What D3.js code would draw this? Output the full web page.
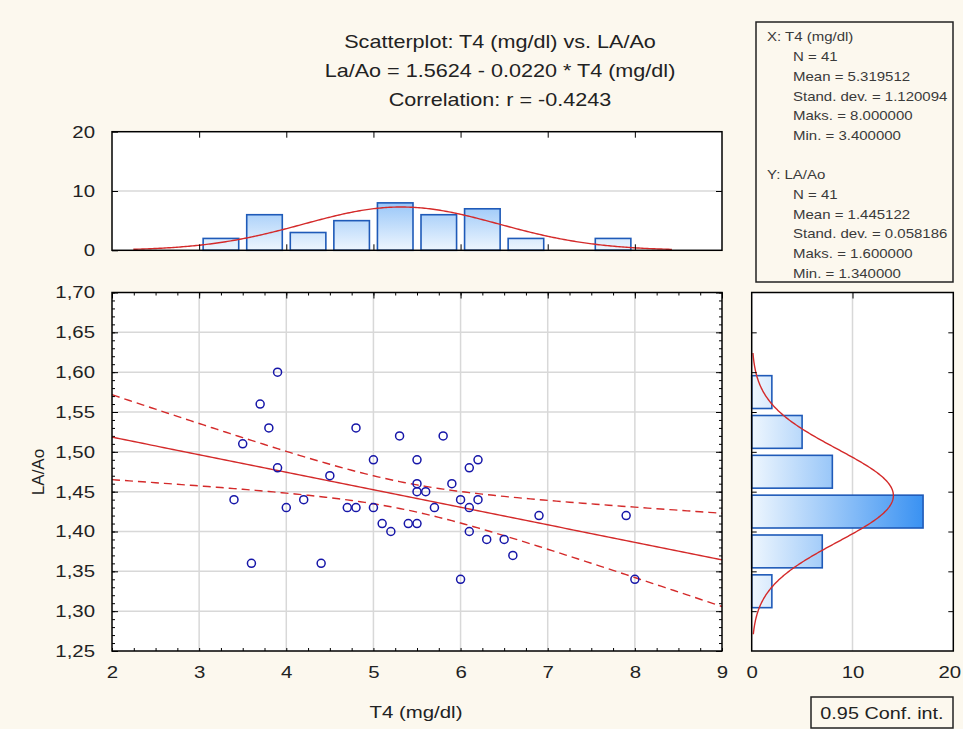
<!DOCTYPE html>
<html>
<head>
<meta charset="utf-8">
<script src="https://cdn.jsdelivr.net/npm/d3@7"></script>
<style>
  body { margin: 0; background: #fcf8ee; }
  svg { display: block; font-family: "Liberation Sans", Arial, sans-serif; }
  .axis path { display: none; }
  .axis line { stroke: #000; }
  .axis text { fill: #222; font-size: 17px; }
</style>
</head>
<body>
<script>
// data
const t4 = [3.4, 3.5, 3.6, 3.7, 3.8, 3.9, 3.9, 4.0, 4.2, 4.4, 4.5, 4.7, 4.8, 4.8, 5.0, 5.0, 5.1, 5.2, 5.3, 5.4,
    5.5, 5.5, 5.5, 5.5, 5.6, 5.7, 5.8, 5.9, 6.0, 6.0, 6.1, 6.1, 6.1, 6.2, 6.2, 6.3, 6.5, 6.6, 6.9, 7.9, 8.0];
const laao = [1.44, 1.51, 1.36, 1.56, 1.53, 1.60, 1.48, 1.43, 1.44, 1.36, 1.47, 1.43, 1.53, 1.43, 1.49, 1.43, 1.41, 1.40, 1.52, 1.41,
    1.49, 1.46, 1.45, 1.41, 1.45, 1.43, 1.52, 1.46, 1.44, 1.34, 1.48, 1.43, 1.40, 1.49, 1.44, 1.39, 1.39, 1.37, 1.42, 1.42, 1.34];

const xBinEdges = [3.0, 3.5, 4.0, 4.5, 5.0, 5.5, 6.0, 6.5, 7.0, 7.5, 8.0];
const xBinCounts = [2, 6, 3, 5, 8, 6, 7, 2, 0, 2];
const yBinEdges = [1.30, 1.35, 1.40, 1.45, 1.50, 1.55, 1.60];
const yBinCounts = [2, 7, 17, 8, 5, 2];

const intercept = 1.5624;
const slope = -0.0220;
const tCrit = 2.0227; // t(0.975, 39)

const titleLines = ["Scatterplot: T4 (mg/dl) vs. LA/Ao", "La/Ao = 1.5624 - 0.0220 * T4 (mg/dl)", "Correlation: r = -0.4243"];
const statsX = ["N = 41", "Mean = 5.319512", "Stand. dev. = 1.120094", "Maks. = 8.000000", "Min. = 3.400000"];
const statsY = ["N = 41", "Mean = 1.445122", "Stand. dev. = 0.058186", "Maks. = 1.600000", "Min. = 1.340000"];
const xMean = 5.319512, xSd = 1.120094, yMean = 1.445122, ySd = 0.058186;

const W = 963, H = 729;
const stretch = 1.2; // the original text is drawn wider than Arial
const svg = d3.select("body").append("svg").attr("width", W).attr("height", H);

const x = d3.scaleLinear().domain([2, 9]).range([112, 722]);
const y = d3.scaleLinear().domain([1.25, 1.70]).range([651, 292.5]);
const topY = d3.scaleLinear().domain([0, 20]).range([250.3, 131.7]);
const rightX = d3.scaleLinear().domain([0, 20]).range([751.7, 953.3]);

// gradients for the bars
const defs = svg.append("defs");
const gTop = defs.append("linearGradient").attr("id", "gTop").attr("gradientUnits", "userSpaceOnUse")
    .attr("x1", 0).attr("x2", 0).attr("y1", topY(0)).attr("y2", topY(20));
gTop.append("stop").attr("offset", 0).attr("stop-color", "#eef6fe");
gTop.append("stop").attr("offset", 1).attr("stop-color", "#1a80f0");
const gRight = defs.append("linearGradient").attr("id", "gRight").attr("gradientUnits", "userSpaceOnUse")
    .attr("y1", 0).attr("y2", 0).attr("x1", rightX(0)).attr("x2", rightX(20));
gRight.append("stop").attr("offset", 0).attr("stop-color", "#eef6fe");
gRight.append("stop").attr("offset", 1).attr("stop-color", "#1a80f0");

// titles
svg.selectAll(".title").data(titleLines).enter().append("text")
    .attr("x", 500).attr("y", (d, i) => 48 + i * 29)
    .attr("text-anchor", "middle").style("font-size", "18px").style("fill", "#222")
    .text(d => d);

// ---------- main scatter ----------
const main = svg.append("g");
main.append("rect").attr("x", x(2)).attr("y", y(1.70)).attr("width", x(9) - x(2)).attr("height", y(1.25) - y(1.70))
    .attr("fill", "#fff");

// grid
main.selectAll(".gx").data(d3.range(3, 9)).enter().append("line")
    .attr("x1", d => x(d)).attr("x2", d => x(d)).attr("y1", y(1.70)).attr("y2", y(1.25))
    .style("stroke", "#d8d8d8").style("stroke-width", 1.5);
main.selectAll(".gy").data(d3.range(1.30, 1.66, 0.05)).enter().append("line")
    .attr("y1", d => y(d)).attr("y2", d => y(d)).attr("x1", x(2)).attr("x2", x(9))
    .style("stroke", "#d8d8d8").style("stroke-width", 1.5);

const yMajor = d3.range(1.25, 1.7001, 0.05);
const yMinor = d3.range(1.25, 1.7001, 0.01);
const xMinor = d3.range(2, 9.001, 0.25);
const fmtComma = d => d3.format(".2f")(d).replace(".", ",");

main.append("g").attr("class", "axis").attr("transform", `translate(${x(2)},0)`)
    .call(d3.axisLeft(y).tickValues(yMajor).tickSize(-6).tickPadding(17).tickFormat(fmtComma));
main.append("g").attr("class", "axis").attr("transform", `translate(${x(2)},0)`)
    .call(d3.axisLeft(y).tickValues(yMinor).tickSize(-3).tickFormat(""));
main.append("g").attr("class", "axis").attr("transform", `translate(${x(9)},0)`)
    .call(d3.axisRight(y).tickValues(yMajor).tickSize(-6).tickFormat(""));
main.append("g").attr("class", "axis").attr("transform", `translate(${x(9)},0)`)
    .call(d3.axisRight(y).tickValues(yMinor).tickSize(-3).tickFormat(""));
main.append("g").attr("class", "axis").attr("transform", `translate(0,${y(1.25)})`)
    .call(d3.axisBottom(x).tickValues(d3.range(2, 10)).tickSize(0).tickPadding(15).tickFormat(d3.format("d")));
main.append("g").attr("class", "axis").attr("transform", `translate(0,${y(1.25)})`)
    .call(d3.axisBottom(x).tickValues(xMinor).tickSize(-3).tickFormat(""));
main.append("g").attr("class", "axis").attr("transform", `translate(0,${y(1.70)})`)
    .call(d3.axisTop(x).tickValues(d3.range(2, 10)).tickSize(-6).tickFormat(""));
main.append("g").attr("class", "axis").attr("transform", `translate(0,${y(1.70)})`)
    .call(d3.axisTop(x).tickValues(xMinor).tickSize(-3).tickFormat(""));

// regression line and 95% confidence band
const n = t4.length;
const mx = d3.mean(t4);
const sxx = d3.sum(t4, v => (v - mx) * (v - mx));
const sse = d3.sum(t4, (v, i) => Math.pow(laao[i] - (intercept + slope * v), 2));
const s = Math.sqrt(sse / (n - 2));
const xs = d3.range(2, 9.0001, 0.05);
const fit = v => intercept + slope * v;
const half = v => tCrit * s * Math.sqrt(1 / n + (v - mx) * (v - mx) / sxx);

const line = d3.line().x(d => x(d[0])).y(d => y(d[1]));
main.append("path").datum(xs.map(v => [v, fit(v)])).attr("d", line)
    .attr("fill", "none").attr("stroke", "#d42a2a").attr("stroke-width", 1.4);
[1, -1].forEach(sign => {
    main.append("path").datum(xs.map(v => [v, fit(v) + sign * half(v)])).attr("d", line)
        .attr("fill", "none").attr("stroke", "#d42a2a").attr("stroke-width", 1.4)
        .attr("stroke-dasharray", "8,5");
});

// points
main.selectAll(".pt").data(t4).enter().append("circle")
    .attr("cx", d => x(d)).attr("cy", (d, i) => y(laao[i])).attr("r", 4)
    .attr("fill", "none").attr("stroke", "#1616a8").attr("stroke-width", 1.5);

main.append("rect").attr("x", x(2)).attr("y", y(1.70)).attr("width", x(9) - x(2)).attr("height", y(1.25) - y(1.70))
    .attr("fill", "none").attr("stroke", "#000").attr("stroke-width", 1.5);

svg.append("text").attr("x", 416).attr("y", 718).attr("text-anchor", "middle")
    .style("font-size", "17px").style("fill", "#222").text("T4 (mg/dl)");
svg.append("text").attr("class", "rot").attr("transform", "translate(44,472) rotate(-90)").attr("text-anchor", "middle")
    .style("font-size", "17px").style("fill", "#222").text("LA/Ao");

// ---------- top histogram ----------
const topG = svg.append("g");
topG.append("rect").attr("x", x(2)).attr("y", topY(20)).attr("width", x(9) - x(2)).attr("height", topY(0) - topY(20))
    .attr("fill", "#fff");
topG.append("line").attr("x1", x(2)).attr("x2", x(9)).attr("y1", topY(10)).attr("y2", topY(10))
    .style("stroke", "#d8d8d8").style("stroke-width", 1.5);
xBinCounts.forEach((c, i) => {
    if (c === 0) return;
    topG.append("rect")
        .attr("x", x(xBinEdges[i]) + 4).attr("width", x(xBinEdges[i + 1]) - x(xBinEdges[i]) - 8)
        .attr("y", topY(c)).attr("height", topY(0) - topY(c))
        .attr("fill", "url(#gTop)").attr("stroke", "#1f5ab8").attr("stroke-width", 1.6);
});
const pdf = (v, m, sd) => Math.exp(-0.5 * Math.pow((v - m) / sd, 2)) / (sd * Math.sqrt(2 * Math.PI));
const topCurveX = d3.range(2.245, 8.431, 0.02);
topG.append("path")
    .datum(topCurveX.map(v => [v, n * 0.5 * pdf(v, xMean, xSd)]))
    .attr("d", d3.line().x(d => x(d[0])).y(d => topY(d[1])))
    .attr("fill", "none").attr("stroke", "#d42a2a").attr("stroke-width", 1.4);
topG.append("g").attr("class", "axis").attr("transform", `translate(${x(2)},0)`)
    .call(d3.axisLeft(topY).tickValues([0, 10, 20]).tickSize(-6).tickPadding(17).tickFormat(d3.format("d")));
topG.append("g").attr("class", "axis").attr("transform", `translate(${x(9)},0)`)
    .call(d3.axisRight(topY).tickValues([10]).tickSize(-6).tickFormat(""));
topG.append("g").attr("class", "axis").attr("transform", `translate(0,${topY(20)})`)
    .call(d3.axisTop(x).tickValues(d3.range(3, 9)).tickSize(-6).tickFormat(""));
topG.append("g").attr("class", "axis").attr("transform", `translate(0,${topY(0)})`)
    .call(d3.axisBottom(x).tickValues(d3.range(3, 9)).tickSize(-6).tickFormat(""));
topG.append("rect").attr("x", x(2)).attr("y", topY(20)).attr("width", x(9) - x(2)).attr("height", topY(0) - topY(20))
    .attr("fill", "none").attr("stroke", "#000").attr("stroke-width", 1.5);

// ---------- right histogram ----------
const right = svg.append("g");
right.append("rect").attr("x", rightX(0)).attr("y", y(1.70)).attr("width", rightX(20) - rightX(0)).attr("height", y(1.25) - y(1.70))
    .attr("fill", "#fff");
right.append("line").attr("x1", rightX(10)).attr("x2", rightX(10)).attr("y1", y(1.70)).attr("y2", y(1.25))
    .style("stroke", "#d8d8d8").style("stroke-width", 1.5);
yBinCounts.forEach((c, i) => {
    if (c === 0) return;
    right.append("rect")
        .attr("y", y(yBinEdges[i + 1]) + 3.5).attr("height", y(yBinEdges[i]) - y(yBinEdges[i + 1]) - 7)
        .attr("x", rightX(0)).attr("width", rightX(c) - rightX(0))
        .attr("fill", "url(#gRight)").attr("stroke", "#1f5ab8").attr("stroke-width", 1.6);
});
const rightCurveY = d3.range(1.271, 1.6241, 0.001);
right.append("path")
    .datum(rightCurveY.map(v => [n * 0.05 * pdf(v, yMean, ySd), v]))
    .attr("d", d3.line().x(d => rightX(d[0])).y(d => y(d[1])))
    .attr("fill", "none").attr("stroke", "#d42a2a").attr("stroke-width", 1.4);
const yHistTicks = d3.range(1.30, 1.66, 0.05);
right.append("g").attr("class", "axis").attr("transform", `translate(${rightX(0)},0)`)
    .call(d3.axisLeft(y).tickValues(yHistTicks).tickSize(-5).tickFormat(""));
right.append("g").attr("class", "axis").attr("transform", `translate(${rightX(20)},0)`)
    .call(d3.axisRight(y).tickValues(yHistTicks).tickSize(-5).tickFormat(""));
right.append("g").attr("class", "axis").attr("transform", `translate(0,${y(1.70)})`)
    .call(d3.axisTop(rightX).tickValues([10]).tickSize(-6).tickFormat(""));
right.append("g").attr("class", "axis").attr("transform", `translate(0,${y(1.25)})`)
    .call(d3.axisBottom(rightX).tickValues([0, 10, 20]).tickSize(0).tickPadding(15).tickFormat(d3.format("d")))
    .selectAll("text").filter(d => d === 20).attr("x", -4);
right.append("rect").attr("x", rightX(0)).attr("y", y(1.70)).attr("width", rightX(20) - rightX(0)).attr("height", y(1.25) - y(1.70))
    .attr("fill", "none").attr("stroke", "#000").attr("stroke-width", 1.5);

// ---------- stats box ----------
const box = svg.append("g");
box.append("rect").attr("x", 756).attr("y", 22).attr("width", 197).attr("height", 260)
    .attr("fill", "none").attr("stroke", "#222").attr("stroke-width", 1.5);
const statLines = [{ t: "X:  T4 (mg/dl)", x: 767 }]
    .concat(statsX.map(t => ({ t, x: 793 })))
    .concat([{ t: "", x: 767 }, { t: "Y:  LA/Ao", x: 767 }])
    .concat(statsY.map(t => ({ t, x: 793 })));
box.selectAll(".st").data(statLines).enter().append("text")
    .attr("x", d => d.x).attr("y", (d, i) => 41.5 + i * 19.7)
    .style("font-size", "12.5px").style("fill", "#3a3a3a").text(d => d.t);

// conf. int. box
svg.append("rect").attr("x", 811).attr("y", 697).attr("width", 142).attr("height", 31)
    .attr("fill", "none").attr("stroke", "#222").attr("stroke-width", 1.5);
svg.append("text").attr("x", 882).attr("y", 719).attr("text-anchor", "middle")
    .style("font-size", "16.5px").style("fill", "#222").text("0.95 Conf. int.");

// widen all horizontal text around its anchor
svg.selectAll("text").filter(function () { return !this.classList.contains("rot"); })
    .each(function () {
        const ax = +this.getAttribute("x") || 0;
        d3.select(this).attr("transform", `translate(${ax},0) scale(${stretch},1) translate(${-ax},0)`);
    });
</script>
</body>
</html>
